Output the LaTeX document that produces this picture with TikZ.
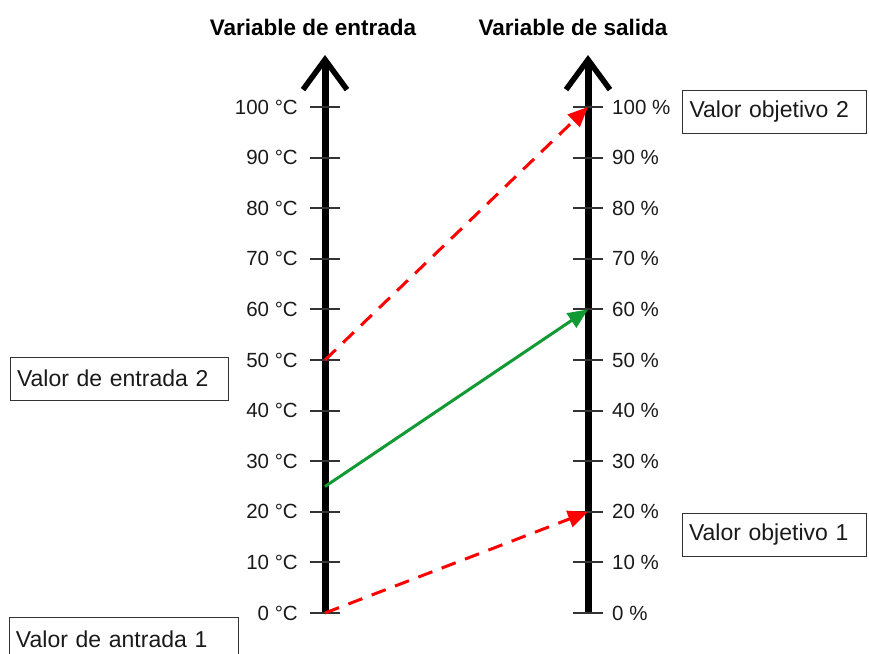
\documentclass[tikz,border=0pt]{standalone}
\usepackage{fontspec}
\setmainfont{Liberation Sans}
\usetikzlibrary{arrows.meta}
\definecolor{txt}{HTML}{1A1A1A}
\definecolor{grn}{HTML}{119933}
\definecolor{tickc}{HTML}{333333}
\begin{document}
\begin{tikzpicture}[x=1pt,y=-1pt,
  axisline/.style={line width=7pt,-{Straight Barb[length=30pt,width=44pt,line width=5.5pt]}},
  tickline/.style={tickc,line width=2pt},
  lbl/.style={font=\fontsize{20.5}{23}\selectfont,text=txt,inner sep=0pt},
  ttl/.style={font=\bfseries\fontsize{22.5}{26}\selectfont,text=black,inner sep=0pt},
  valbox/.style={draw=black!80,line width=1pt,font=\fontsize{23}{26}\selectfont,text=txt,
    minimum height=43pt,align=left,inner xsep=7pt,inner ysep=0pt},
  redarrow/.style={red,line width=3pt,dash pattern=on 15pt off 10pt,
    -{Triangle[length=20pt,width=17pt]}},
  grnarrow/.style={grn,line width=3pt,-{Triangle[length=20pt,width=17pt]}}]
\useasboundingbox (0,0) rectangle (869,653);
% axes
\coordinate (lbot) at (325,613);
\coordinate (ltop) at (325,55);
\coordinate (rbot) at (588,613);
\coordinate (rtop) at (588,55);
\draw[axisline] (lbot) -- (ltop);
\draw[axisline] (rbot) -- (rtop);
\node[ttl] (tl) at (313,27) {Variable de entrada};
\node[ttl] (tr) at (573,27) {Variable de salida};
% ticks
\foreach \v in {0,10,...,100}{
  \pgfmathsetmacro{\yy}{613-5.06*\v}
  \coordinate (L\v) at (325,\yy);
  \coordinate (R\v) at (588,\yy);
  \draw[tickline] (310,\yy) -- (340,\yy);
  \draw[tickline] (573,\yy) -- (603,\yy);
  \node[lbl,anchor=east] (lt\v) at (298,\yy) {\v\ °C};
  \node[lbl,anchor=west] (rt\v) at (612,\yy) {\v\ \%};
}
\coordinate (L25) at (325,486.5);
% boxes
\node[valbox,minimum width=218pt,text width=204pt] (in2) at (119,378.5) {Valor de entrada 2};
\node[valbox,minimum width=229pt,text width=215pt] (in1) at (123.5,639) {Valor de antrada 1};
\node[valbox,minimum width=184pt,text width=170pt] (out2) at (774.5,112) {Valor objetivo 2};
\node[valbox,minimum width=184pt,text width=170pt] (out1) at (774,535) {Valor objetivo 1};
% mapping arrows
\draw[redarrow] (L0) -- (R20);
\draw[redarrow] (L50) -- (R100);
\draw[grnarrow] (L25) -- (R60);
\end{tikzpicture}
\end{document}
